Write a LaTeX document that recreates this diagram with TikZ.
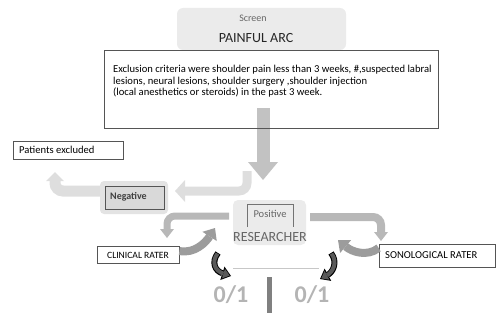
\documentclass[tikz,border=0pt]{standalone}
\usepackage{fontspec}
\setmainfont{Carlito}
\usetikzlibrary{arrows.meta}
\definecolor{boxgray}{HTML}{EBEBEB}
\definecolor{edge}{HTML}{555555}
\definecolor{arrowA}{HTML}{C2C2C2}
\definecolor{lightA}{HTML}{DEDEDE}
\definecolor{midA}{HTML}{B8B8B8}
\definecolor{curveA}{HTML}{9C9C9C}
\definecolor{darkA}{HTML}{5A5A5A}
\definecolor{txtgray}{HTML}{666666}
\definecolor{negouter}{HTML}{E3E3E3}
\definecolor{neginner}{HTML}{D9D9D9}
\definecolor{zeroone}{HTML}{B4B4B4}
\tikzset{
  plainbox/.style={rectangle, inner sep=0pt, draw=edge, line width=0.7pt},
  darkcurve/.style={line width=6pt, draw=black, -{Triangle[width=14pt,length=9pt,line width=0pt]}},
  darkcurvein/.style={line width=4pt, draw=darkA, shorten >=1.4pt, shorten <=0.8pt, -{Triangle[width=10pt,length=6.5pt,line width=0pt]}},
}
\begin{document}
\begin{tikzpicture}[x=1pt,y=-1pt]
\useasboundingbox (0,0) rectangle (497,321);
% screen box
\node[rectangle, rounded corners=6pt, fill=boxgray, minimum width=169pt, minimum height=42pt, inner sep=0pt] (screen) at (261.5,29) {};
\node[font=\fontsize{10}{12}\selectfont, text=txtgray] (screenlbl) at (253,18) {Screen};
\node[font=\fontsize{14}{16}\selectfont, text=black!85] (painful) at (256,38) {PAINFUL ARC};
% exclusion box (border drawn later)
\node[rectangle, inner sep=0pt, minimum width=333pt, minimum height=77pt] (excl) at (271.5,89.5) {};
\node[anchor=north west, align=left, inner sep=0pt, font=\fontsize{10.6}{11.7}\selectfont] (excltext) at (113,65)
{Exclusion criteria were shoulder pain less than 3 weeks, \#,suspected labral\\
lesions, neural lesions, shoulder surgery ,shoulder injection\\
(local anesthetics or steroids) in the past 3 week.};
% main down arrow
\coordinate (a1s) at (263,108);
\coordinate (a1e) at (263,180);
\draw[line width=13pt, arrowA, -{Triangle[width=30pt,length=18pt,line width=0pt]}] (a1s) -- (a1e);
\draw[edge, line width=0.7pt] (excl.north west) rectangle (excl.south east);
% negative node
\node[rectangle, rounded corners=4pt, fill=negouter, minimum width=68pt, minimum height=33pt, inner sep=0pt] (negout) at (134,197.5) {};
\node[plainbox, fill=neginner, minimum width=59pt, minimum height=23pt] (neg) at (134.5,197.5) {};
\node[anchor=west, inner sep=0pt, font=\fontsize{10}{12}\selectfont\bfseries, text=black!75] (neglbl) at (110,196.5) {Negative};
% return arrow to negative
\coordinate (r1) at (247,171);
\coordinate (r2) at (247,191);
\coordinate (r3) at (175,191);
\draw[line width=9pt, lightA, rounded corners=8pt, -{Triangle[width=22pt,length=10pt,line width=0pt]}] (r1) -- (r2) -- (r3);
% patients excluded
\node[plainbox, minimum width=110pt, minimum height=18pt] (excluded) at (68,150) {};
\node[anchor=west, inner sep=0pt, font=\fontsize{10.6}{12}\selectfont] (exclbl) at (19,150) {Patients excluded};
\coordinate (p2) at (55,191);
\coordinate (p3) at (55,172);
\draw[line width=11pt, lightA, rounded corners=8pt, -{Triangle[width=18pt,length=9pt,line width=0pt]}] (negout.west |- p2) -- (p2) -- (p3);
% researcher box
\node[rectangle, rounded corners=5pt, fill=boxgray, minimum width=73pt, minimum height=45pt, inner sep=0pt] (res) at (269.5,222.5) {};
\draw[black!55, line width=0.6pt] (247,227) -- (247,204) -- (293,204) -- (293,227);
\node[font=\fontsize{10.5}{12}\selectfont, text=txtgray] (poslbl) at (270,214) {Positive};
\node[font=\fontsize{14}{16}\selectfont, text=txtgray] (reslbl) at (270,237) {RESEARCHER};
% raters
\node[plainbox, minimum width=82pt, minimum height=17pt, font=\fontsize{9.6}{11}\selectfont] (clin) at (138,255) {CLINICAL RATER};
\node[plainbox, minimum width=116pt, minimum height=23pt] (sono) at (437,255.5) {};
\node[anchor=west, inner sep=0pt, font=\fontsize{10.6}{12}\selectfont] (sonolbl) at (385,255) {SONOLOGICAL RATER};
% bent arrows from researcher
\coordinate (l2) at (167,216);
\coordinate (l3) at (167,238);
\draw[line width=7pt, midA, rounded corners=8pt, -{Triangle[width=14pt,length=9pt,line width=0pt]}] (229,216) -- (l2) -- (l3);
\coordinate (rr2) at (381,217);
\coordinate (rr3) at (381,241);
\draw[line width=8pt, midA, rounded corners=8pt, -{Triangle[width=14pt,length=9pt,line width=0pt]}] (310,217) -- (rr2) -- (rr3);
% curved arrows back to researcher
\coordinate (lc) at (215,228);
\draw[line width=8pt, curveA, -{Triangle[width=17pt,length=10pt,line width=0pt]}] (clin.east |- 0,251) .. controls (195,254) and (206,242) .. (lc);
\coordinate (rc) at (338,240);
\draw[line width=8pt, curveA, -{Triangle[width=17pt,length=10pt,line width=0pt]}] (sono.west |- 0,248) .. controls (367,257) and (352,252) .. (rc);
% dark arrows
\coordinate (dl1) at (218,253);
\coordinate (dl2) at (231,276);
\draw[darkcurve] (dl1) .. controls (211,262) and (215,271) .. (dl2);
\draw[darkcurvein] (dl1) .. controls (211,262) and (215,271) .. (dl2);
\coordinate (dr1) at (331,253);
\coordinate (dr2) at (320,279);
\draw[darkcurve] (dr1) .. controls (338,262) and (333,272) .. (dr2);
\draw[darkcurvein] (dr1) .. controls (338,262) and (333,272) .. (dr2);
% bottom
\coordinate (h1) at (233,268);
\coordinate (h2) at (319,268);
\draw[black!22, line width=0.8pt] (h1) -- (h2);
\coordinate (v1) at (269.5,277);
\coordinate (v2) at (269.5,313);
\draw[black!50, line width=5pt] (v1) -- (v2);
\node[font=\fontsize{24}{26}\selectfont\bfseries, text=zeroone] (zl) at (231,295) {0/1};
\node[font=\fontsize{24}{26}\selectfont\bfseries, text=zeroone] (zr) at (312,295) {0/1};
\end{tikzpicture}
\end{document}
